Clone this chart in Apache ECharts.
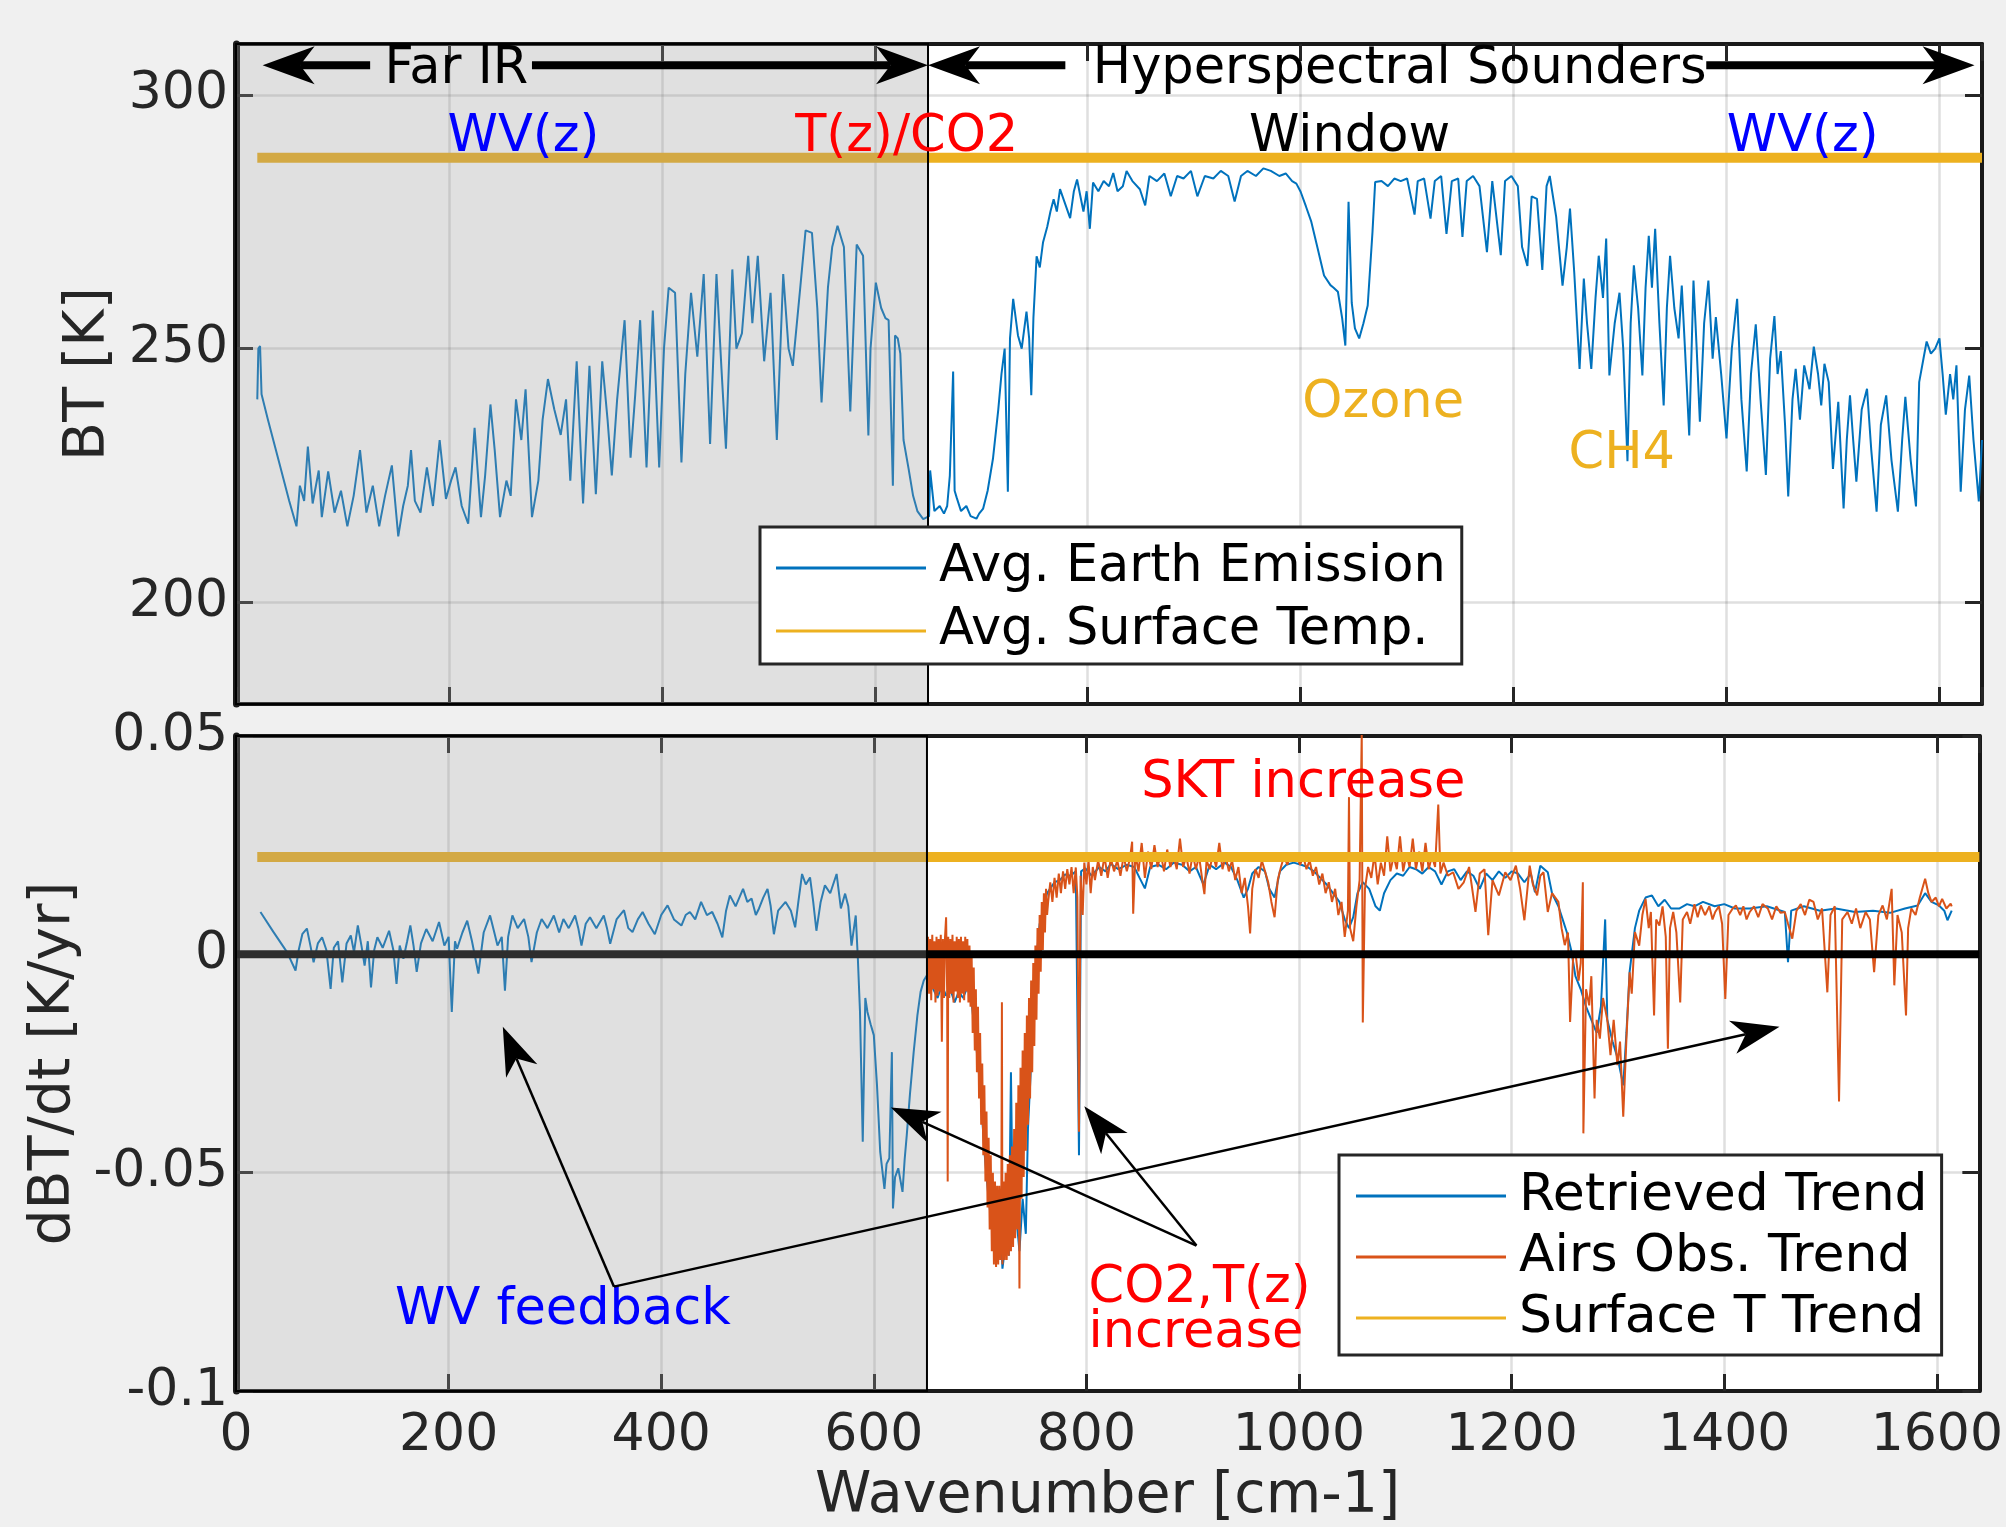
<!DOCTYPE html>
<html>
<head>
<meta charset="utf-8">
<script src="https://cdn.jsdelivr.net/npm/echarts@6/dist/echarts.min.js"></script>
<style>
  html, body { margin: 0; padding: 0; background: #f0f0f0; }
  #chart { width: 2006px; height: 1527px; }
</style>
</head>
<body>
<div id="chart"></div>
<script>
// values: [wavenumber cm-1, value]
const emissionBT = [
  [20,240],[21,250],[22.6,250.5],[24,241],[30,236],[40,228],[50,220],[56.8,215],
  [60,223],[64,220],[67.5,230.7],[72,219.5],[77.7,226],[80.6,216.8],[86.6,225.8],[92.6,217.7],[98.6,222],[104.6,215],
  [110.5,221],[116.5,230],[122.5,217.7],[128.5,223],[134.5,215],[140,221],[146.4,227],[152.4,213],[157,219],[161.4,223],
  [164.4,230],[168,220],[173.3,217.7],[179.3,226.6],[185,219],[191.3,232],[197.2,220.4],[202,224],[206.2,226.6],[212,219],
  [218.1,215.5],[224.1,234.4],[230.1,216.8],[234,225],[239,239],[243,230],[248,216.8],[254,224],[258,221],[263,240],
  [268,232],[272,242],[278,216.8],[284,224],[288,236],[293,244],[299,238],[305,233],[310,240],[314,224],[320,247.5],
  [326,219.5],[332,246.6],[338,221.3],[344,247.5],[349,236],[353,225],[358,240],[365,255.6],[370.6,228.5],[375,241],
  [379.6,255.6],[385.6,226.6],[391.5,257.5],[397.5,226.6],[402,250],[406.4,262],[412.4,261],[418.4,227.6],[422,245],
  [427.4,261],[433.3,248.4],[439.3,264.7],[445.3,231.2],[451.3,264.7],[456,246],[460.2,230.3],[466.2,265.6],[470,250],
  [475.2,253],[481.1,268.3],[485,255],[490.1,268.3],[496.1,247.5],[502.1,261],[508,232],[514,264.7],[519,250],[523,246.6],
  [530,262],[535,273.3],[541,272.8],[546,258],[550,239.4],[556,262],[560,270],[565,274.2],[571,270],[577,237.6],[583,270.5],
  [589,268.3],[594,232.9],[596,250],[601,263],[606,258],[610,256],[613,255.6],[617,223],[619,252.6],[621.6,252],[624,249],
  [627,232],[631.7,226.4],[636,221],[640,218],[645.5,216.4],[651,217],[652,226],
  [656,218],[661,219],[665,217.5],[668,219],[670.5,225],[673.6,245.5],[675,222],[677,220.6],[681,218],[686,219],[690,217],
  [695.5,216.5],[698,217.5],[701.8,218.5],[706,222],[711,228.3],[716,238],[719,245],[722,250],[725,221.8],[727,252],
  [730,259.8],[734.5,252.6],[738,250],[742.5,257.3],[745,252],[747,240.8],[749,256],[752,268.2],[755,266],[758,270.9],
  [762,274],[765,277],[768,279.4],[771,277],[774,281.4],[778,279],[783.5,275.7],[787,281],[790,283.3],[796,277],[799,281],
  [802,273.6],[805,282.7],[810,281],[815,283],[820,282],[824,284.6],[828,281],[833,282],[836.5,285],[842,283],[849,281.4],
  [854,278.2],[858,284],[865,283],[872,284.5],[878,280],[884,284],[890,283.5],[897,285],[903,280],[910,284],[918,283.5],
  [925,285],[932,284],[938,279],[944,284],[950,285],[958,284],[965,285.5],[972,285],[980,284],[986,284.5],[992,283],
  [996,282.5],[1000,280.9],[1005,278],[1010,275],[1016,269.7],[1022,264.4],[1028,262.5],[1031,262],[1035,261.2],[1039,256],
  [1042,250.6],[1045,278.9],[1048,259],[1051,254],[1055,252],[1059,255],[1063,258.5],[1067.5,273],[1070,282.8],[1076,283],
  [1082,282],[1088,283.5],[1094,283],[1100,283.5],[1107,276.4],[1110,283],[1116,283.5],[1122,275.6],[1126,283],[1132,284],
  [1137,272.6],[1142,283],[1148,283.5],[1152,272],[1156,283],[1162,284],[1168,282],[1175,269],[1180,283],[1188,268.4],
  [1192,283],[1198,284],[1204,282],[1208,270],[1213,266.3],[1217,280],[1222,279.5],[1227,265.5],[1231,282],[1234,284],
  [1240,276],[1246,262.4],[1250,270],[1253,277.6],[1257,265],[1262,246],[1266,263.8],[1269,255],[1273,246],[1277,260],
  [1280,268.3],[1284,260],[1287,271.7],[1290,244.7],[1295,255],[1299.5,261],[1303,250],[1307,227.8],[1310,255],[1313,266.4],
  [1317,258],[1321,244.7],[1324,262],[1327,272.2],[1330,262],[1333,273.6],[1337,255],[1341,238.8],[1344,258],[1347,268.3],
  [1351,258],[1355,252],[1358,262.4],[1361,250],[1365,232.9],[1369,263.4],[1372,250],[1375,235.6],[1379,255],[1383,263.4],
  [1387,248],[1390,256.2],[1395,245],[1400,232.3],[1405,250],[1410,259.8],[1414,240],[1419,225.8],[1423,245],[1427.5,254.8],
  [1432,240],[1437,225.1],[1441,248],[1445,256.4],[1448,245],[1451,249.5],[1455,235],[1458,220.9],[1462,240],[1465,246],
  [1469,236],[1473,246.7],[1478,242],[1482,250.4],[1486,245],[1489,238.8],[1492,247],[1496,243.4],[1500,226.3],[1505,239.5],
  [1510,218.5],[1513,232],[1516,240.8],[1519,232],[1522,223.8],[1527,238],[1532,242.1],[1536,230],[1541,217.9],[1545,235],
  [1550,240.8],[1555,228],[1561,217.9],[1565,232],[1568,240.5],[1573,228],[1578,218.9],[1581,243.4],[1585,248],[1588,251.4],
  [1592,249],[1596,250],[1600,252],[1603,245],[1606,237],[1610,245],[1613,240],[1616,246.7],[1620,221.8],[1624,238],
  [1628,244.7],[1632,232],[1637,219.9],[1640,232]
];
const surfaceBT = [[20, 287.6], [1640, 287.6]];

const retrievedTrend = [
  [23,0.0097],[35,0.0052],[48,0.0005],[56,-0.0037],[59,0.0010],[62.5,0.0047],[66.7,0.0059],[70,0.0020],[73,-0.0018],
  [77,0.0025],[81,0.0039],[85,0.0010],[89,-0.0079],[92,0.0015],[96,0.0030],[100,-0.0064],[104,0.0025],[108,0.0043],
  [111,0.0005],[114.6,0.0066],[118,0.0020],[121,-0.0026],[124,0.0030],[127,-0.0076],[130,0.0010],[133,0.0039],[138,0.0015],
  [144,0.0054],[148,0.0010],[151,-0.0068],[154,0.0020],[157.5,-0.0010],[161,0.0030],[164,0.0066],[167,0.0020],[170,-0.0040],
  [174,0.0025],[179,0.0058],[185,0.0030],[191,0.0074],[196,0.0020],[200,0.0040],[203,-0.0132],[206,0.0030],[208,0.0013],
  [213,0.0050],[217.5,0.0077],[222,0.0030],[228,-0.0044],[233,0.0050],[239,0.0089],[243,0.0050],[246,0.0020],[250,0.0040],
  [253,-0.0083],[256,0.0040],[260,0.0089],[265,0.0060],[271,0.0081],[275,0.0040],[278,-0.0018],[283,0.0050],[287.5,0.0081],
  [293,0.0060],[299,0.0089],[304,0.0050],[308,0.0081],[313,0.0060],[319,0.0089],[322,0.0060],[325,0.0020],[329,0.0070],
  [333,0.0085],[339,0.0060],[346,0.0089],[349,0.0060],[352,0.0024],[358,0.0080],[365,0.0101],[369,0.0060],[373,0.0051],
  [378,0.0080],[382.5,0.0097],[388,0.0070],[394,0.0046],[400,0.0090],[406,0.0112],[412,0.0080],[419,0.0066],[423,0.0090],
  [427,0.0097],[432,0.0080],[437.5,0.0120],[443,0.0090],[448,0.0097],[453,0.0070],[457.5,0.0039],[461,0.0100],[464.6,0.0135],
  [470,0.0110],[477,0.0150],[481,0.0120],[485,0.0128],[489,0.0090],[492,0.0105],[496,0.0130],[500,0.0150],[503,0.0110],
  [506,0.0046],[510,0.0100],[517,0.0120],[522,0.0100],[526,0.0062],[529,0.0120],[532.5,0.0184],[536,0.0160],[540,0.0176],
  [543,0.0120],[546,0.0054],[550,0.0120],[554,0.0158],[559,0.0140],[565,0.0184],[569,0.0105],[573,0.0139],[576,0.0110],
  [579,0.0020],[583,0.0089],[585,-0.0010],[587,-0.0132],[589.6,-0.0429],[592,-0.0100],[594,-0.0132],[597,-0.0160],
  [600,-0.0185],[603,-0.0300],[606,-0.0452],[610,-0.0537],[612,-0.0480],[614.6,-0.0467],[617,-0.0224],[618,-0.0582],
  [620,-0.0510],[623,-0.0490],[627,-0.0544],[629,-0.0470],[631,-0.0414],[634,-0.0320],[637.5,-0.0224],[641,-0.0140],
  [644,-0.0086],[647,-0.0060],[650,-0.0048],
  [652,-0.0020],[656,-0.0080],[660,-0.0100],[664,-0.0070],[668,-0.0095],[672,-0.0080],[676,-0.0110],[680,-0.0085],
  [684,-0.0100],[688,-0.0075],[692,-0.0110],[696,-0.0200],[700,-0.0300],[704,-0.0450],[708,-0.0560],[712,-0.0640],
  [716,-0.0700],[719,-0.0610],[721,-0.0720],[724,-0.0660],[727,-0.0690],[729,-0.0270],[731,-0.0650],[734,-0.0600],
  [737,-0.0680],[740,-0.0560],[743,-0.0640],[745,-0.0400],[748,-0.0250],[750,-0.0079],[753,-0.0010],[756,0.0069],
  [760,0.0110],[763,0.0140],[766,0.0151],[770,0.0165],[775,0.0170],[780,0.0183],[785,0.0180],[790,0.0190],[793,-0.0460],
  [795,0.0190],[799,0.0197],
  [805,0.0180],[812,0.0200],[818,0.0190],[823,0.0207],[830,0.0195],[838,0.0205],[845,0.0200],[850,0.0175],[855,0.0151],
  [860,0.0200],[868,0.0205],[875,0.0195],[882,0.0210],[890,0.0205],[897,0.0190],[903,0.0200],[910,0.0160],[916,0.0205],
  [922,0.0195],[930,0.0210],[936,0.0200],[942,0.0170],[948,0.0130],[952,0.0150],[956,0.0185],[962,0.0200],[968,0.0190],
  [972,0.0150],[977,0.0130],[982,0.0190],[988,0.0205],[995,0.0210],[1002,0.0205],[1008,0.0200],[1014,0.0190],[1020,0.0175],
  [1026,0.0160],[1032,0.0140],[1038,0.0120],[1043,0.0080],[1047,0.0060],[1051,0.0085],[1055,0.0140],[1060,0.0165],
  [1066,0.0150],[1072,0.0110],[1076,0.0100],[1080,0.0140],[1086,0.0170],[1092,0.0185],[1098,0.0180],[1104,0.0200],
  [1110,0.0195],[1116,0.0185],[1122,0.0200],[1128,0.0190],[1134,0.0160],[1140,0.0190],[1146,0.0195],[1152,0.0170],
  [1158,0.0190],[1164,0.0180],[1170,0.0150],[1176,0.0185],[1182,0.0170],[1188,0.0190],[1194,0.0175],[1200,0.0190],
  [1206,0.0185],[1212,0.0165],[1218,0.0185],[1222,0.0142],[1227,0.0203],[1234,0.0188],[1238,0.0140],[1244,0.0110],
  [1248,0.0080],[1252,0.0050],[1256,0.0010],[1260,-0.0050],[1265,-0.0080],[1270,-0.0120],[1275,-0.0150],[1280,-0.0180],
  [1284,-0.0120],[1288,0.0080],[1290,-0.0150],[1295,-0.0200],[1300,-0.0240],[1305,-0.0300],[1308,-0.0180],[1311,-0.0040],
  [1316,0.0060],[1320,0.0100],[1326,0.0130],[1332,0.0135],[1338,0.0110],[1344,0.0125],[1350,0.0105],[1358,0.0105],
  [1365,0.0115],[1372,0.0110],[1380,0.0120],[1391,0.0110],[1400,0.0115],[1410,0.0105],[1424,0.0105],[1440,0.0110],
  [1457,0.0097],[1460,-0.0018],[1463,0.0100],[1475,0.0110],[1490,0.0100],[1505,0.0105],[1523,0.0097],[1540,0.0100],
  [1556,0.0095],[1570,0.0105],[1582,0.0112],[1589,0.0140],[1595,0.0120],[1602,0.0112],[1607,0.0100],[1610,0.0078],[1614,0.0100]
];

const airsObsTrend = [
  [650,0.0000],[651,0.0040],[652,-0.0090],[653,0.0035],[654,-0.0105],[655,0.0045],[656,-0.0080],[657,0.0030],
  [658,-0.0110],[659,0.0040],[660,-0.0095],[661,0.0035],[662,-0.0085],[663,0.0045],[664,-0.0200],[665,0.0035],
  [666,-0.0100],[667,0.0040],[668,0.0085],[669,-0.0090],[669.5,-0.0520],[670,0.0040],[671,-0.0100],[672,0.0035],
  [673,-0.0090],[674,0.0045],[675,-0.0110],[676,0.0030],[677,-0.0085],[678,0.0040],[679,-0.0100],[680,0.0035],
  [681,-0.0110],[682,0.0040],[683,-0.0090],[684,0.0030],[685,-0.0105],[686,0.0040],[687,-0.0085],[688,0.0035],
  [689,-0.0110],[690,0.0020],[691,-0.0120],[692,0.0000],[693,-0.0180],[694,-0.0030],[695,-0.0220],[696,-0.0080],
  [697,-0.0270],[698,-0.0120],[699,-0.0330],[700,-0.0180],[701,-0.0390],[702,-0.0250],[703,-0.0460],[704,-0.0300],
  [705,-0.0520],[706,-0.0360],[707,-0.0580],[708,-0.0420],[709,-0.0630],[710,-0.0460],[711,-0.0680],[712,-0.0500],
  [713,-0.0710],[714,-0.0520],[715,-0.0716],[716,-0.0530],[717,-0.0710],[718,-0.0530],[719,-0.0700],[720,-0.0530],
  [720.5,-0.0110],[721,-0.0710],[722,-0.0520],[723,-0.0700],[724,-0.0500],[725,-0.0700],[726,-0.0480],[727,-0.0690],
  [728,-0.0460],[729,-0.0680],[730,-0.0440],[731,-0.0670],[732,-0.0400],[733,-0.0650],[734,-0.0340],[735,-0.0630],
  [736,-0.0300],[737,-0.0765],[738,-0.0260],[739,-0.0560],[740,-0.0220],[741,-0.0510],[742,-0.0180],[743,-0.0450],
  [744,-0.0140],[745,-0.0390],[746,-0.0100],[747,-0.0330],[748,-0.0060],[749,-0.0270],[750,-0.0020],[751,-0.0210],
  [752,0.0020],[753,-0.0150],[754,0.0060],[755,-0.0090],[756,0.0090],[757,-0.0040],[758,0.0120],[759,0.0010],
  [760,0.0140],[761,0.0050],[762,0.0150],[763,0.0090],[764,0.0120],[766,0.0165],[768,0.0120],
  [770,0.0175],[772,0.0130],[774,0.0185],[776,0.0140],[778,0.0190],[780,0.0150],[782,0.0195],[784,0.0160],[786,0.0200],
  [788,0.0140],[790,0.0199],[791.5,0.0130],[793,-0.0406],[794.5,0.0180],[796.5,0.0090],[798,0.0210],[800,0.0160],
  [802,0.0215],[804,0.0140],[806,0.0200],[808,0.0170],[811,0.0215],[814,0.0180],[817,0.0225],[820,0.0175],[823,0.0220],
  [826,0.0190],[829,0.0215],[832,0.0180],[835,0.0225],[838,0.0190],[841,0.0220],[843,0.0258],[844,0.0093],[846,0.0230],
  [849,0.0190],[852,0.0255],[855,0.0175],[858,0.0235],[861,0.0195],[864,0.0250],[867,0.0200],[870,0.0230],[873,0.0190],
  [876,0.0240],[879,0.0200],[882,0.0225],[885,0.0195],[888,0.0265],[891,0.0200],[894,0.0225],[897,0.0185],[900,0.0230],
  [903,0.0195],[906,0.0225],[909,0.0170],[911,0.0138],[913,0.0215],[916,0.0195],[919,0.0230],[922,0.0200],[925,0.0255],
  [928,0.0195],[931,0.0225],[934,0.0190],[937,0.0215],[940,0.0170],[943,0.0200],[946,0.0140],[949,0.0175],[952,0.0110],
  [954,0.0048],[956,0.0150],[959,0.0195],[962,0.0175],[965,0.0215],[968,0.0190],[971,0.0165],[974,0.0120],[977,0.0085],
  [980,0.0170],[983,0.0200],[986,0.0225],[989,0.0205],[992,0.0230],[995,0.0215],[998,0.0225],[1001,0.0205],[1004,0.0225],
  [1007,0.0195],[1010,0.0215],[1013,0.0180],[1016,0.0200],[1019,0.0160],[1022,0.0185],[1025,0.0140],[1028,0.0165],
  [1031,0.0120],[1034,0.0150],[1037,0.0090],[1040,0.0120],[1043,0.0040],[1046,0.0100],[1047,0.0360],[1048,0.0060],
  [1051,0.0030],[1054,0.0110],[1057,0.0170],[1059,0.0507],[1060,-0.0156],[1062,0.0150],[1065,0.0200],[1068,0.0175],
  [1071,0.0230],[1074,0.0160],[1077,0.0210],[1080,0.0180],[1083,0.0270],[1086,0.0190],[1089,0.0225],[1092,0.0195],
  [1095,0.0270],[1098,0.0190],[1101,0.0230],[1104,0.0200],[1107,0.0265],[1110,0.0195],[1113,0.0235],[1116,0.0190],
  [1119,0.0255],[1122,0.0195],[1125,0.0225],[1128,0.0200],[1131,0.0343],[1133,0.0185],[1136,0.0210],[1140,0.0180],
  [1145,0.0188],[1150,0.0150],[1155,0.0165],[1160,0.0200],[1166,0.0097],[1170,0.0185],[1174.5,0.0195],[1178,0.0044],
  [1182,0.0170],[1188,0.0135],[1194,0.0188],[1199,0.0170],[1204,0.0203],[1208,0.0150],[1212,0.0078],[1217,0.0203],
  [1220,0.0160],[1224,0.0135],[1227,0.0180],[1230,0.0188],[1234,0.0097],[1238,0.0140],[1244,0.0120],[1247,0.0060],
  [1250,0.0021],[1253,0.0050],[1255,-0.0155],[1258,0.0000],[1260,0.0006],[1263,-0.0060],[1265,-0.0020],[1267,0.0165],
  [1267.5,-0.0410],[1270,-0.0080],[1273,-0.0117],[1275,-0.0050],[1278,-0.0330],[1280,-0.0150],[1283,-0.0193],[1286,-0.0100],
  [1290,-0.0150],[1293,-0.0231],[1296,-0.0150],[1299.5,-0.0254],[1302,-0.0200],[1305,-0.0372],[1308,-0.0193],[1311,-0.0041],
  [1313,-0.0090],[1316,0.0051],[1320,0.0020],[1323,0.0090],[1326,0.0127],[1329,0.0060],[1331,0.0097],[1334,-0.0140],
  [1336,0.0080],[1339,0.0066],[1342,0.0110],[1345,0.0040],[1347,-0.0216],[1349,0.0060],[1352,0.0097],[1355,0.0050],
  [1358.6,-0.0110],[1361,0.0080],[1365,0.0097],[1368,0.0070],[1372,0.0115],[1375,0.0085],[1378,0.0112],[1382,0.0090],
  [1386,0.0110],[1389,0.0080],[1391.5,0.0097],[1395,0.0110],[1398,0.0070],[1401,-0.0102],[1404,0.0090],[1408,0.0105],
  [1411,0.0112],[1415,0.0090],[1418,0.0110],[1421,0.0080],[1424,0.0097],[1428,0.0110],[1432,0.0085],[1436,0.0115],
  [1441,0.0105],[1445,0.0080],[1449,0.0110],[1453,0.0095],[1457,0.0097],[1460,0.0070],[1464,0.0036],[1468,0.0100],
  [1472,0.0115],[1476,0.0090],[1480,0.0125],[1484,0.0120],[1488,0.0080],[1492,0.0105],[1497,-0.0087],[1500,0.0090],
  [1504,0.0110],[1508,-0.0337],[1511,0.0080],[1516,0.0097],[1520,0.0070],[1524,0.0105],[1528,0.0060],[1533,0.0097],
  [1537,0.0080],[1541,-0.0041],[1545,0.0090],[1549,0.0112],[1553,0.0080],[1557.5,0.0150],[1560,-0.0071],[1563,0.0090],
  [1567,0.0050],[1571,-0.0140],[1573,0.0060],[1576,0.0105],[1580,0.0090],[1584,0.0130],[1589,0.0173],[1592,0.0140],
  [1595,0.0120],[1599,0.0130],[1602,0.0110],[1605,0.0127],[1609,0.0105],[1613,0.0116],[1614,0.0110]
];
const surfaceTrend = [[20, 0.0223], [1640, 0.0223]];
const zeroLine = [[0, 0], [1640, 0]];

const farIRBand = [0, 650];
const btTicks = [200, 250, 300];
const wnRange = [0, 1640];

// annotation texts and arrows, in data coordinates
const topNotes = [
  { text: 'WV(z)', at: [270, 292.5], color: '#0000ff' },
  { text: 'T(z)/CO2', at: [630, 292.5], color: '#ff0000' },
  { text: 'Window', at: [1046, 292.5], color: '#000000' },
  { text: 'WV(z)', at: [1471.6, 292.5], color: '#0000ff' },
  { text: 'Ozone', at: [1077.5, 240.1], color: '#edb120' },
  { text: 'CH4', at: [1301.6, 230], color: '#edb120' },
  { text: 'Far IR', at: [207, 306], color: '#000000' },
  { text: 'Hyperspectral Sounders', at: [1093, 306], color: '#000000' }
];
const bottomNotes = [
  { text: 'SKT increase', at: [1004, 0.0401], color: '#ff0000' },
  { text: 'WV feedback', at: [307.5, -0.0804], color: '#0000ff' },
  { text: 'CO2,T(z)', at: [802, -0.0755], color: '#ff0000', align: 'left' },
  { text: 'increase', at: [802, -0.0857], color: '#ff0000', align: 'left' }
];
const topArrows = [
  [[126, 305.8], [25, 305.8]],
  [[278, 305.8], [650, 305.8]],
  [[779, 305.8], [650, 305.8]],
  [[1381, 305.8], [1633, 305.8]]
];
const bottomArrows = [
  [[355.6, -0.0761], [251, -0.0166]],
  [[355.6, -0.0761], [1452, -0.0166]],
  [[903.5, -0.0667], [798, -0.0348]],
  [[903.5, -0.0667], [616, -0.0351]]
];

const FONT = 'DejaVu Sans';
const INK = '#262626';
const FRAME = '#1a1a1a';
const TICK_FS = 52;
const TITLE_FS = 57;

function xAx(grid, pos, labels, name) {
  return {
    type: 'value', gridIndex: grid, position: pos, min: wnRange[0], max: wnRange[1], interval: 200,
    axisLine: { show: true, onZero: false, lineStyle: { color: FRAME, width: 4 } },
    axisTick: { show: true, inside: true, length: 17, lineStyle: { color: INK, width: 3 } },
    axisLabel: { show: labels, color: INK, fontFamily: FONT, fontSize: TICK_FS, margin: 19, formatter: v => String(v) },
    splitLine: { show: pos === 'bottom', lineStyle: { color: 'rgba(38,38,38,0.15)', width: 2.5 } },
    name: name || '', nameLocation: 'middle', nameGap: 78,
    nameTextStyle: { color: INK, fontFamily: FONT, fontSize: TITLE_FS }
  };
}

function yAx(grid, pos, range, extra, name, gap) {
  const ax = {
    type: 'value', gridIndex: grid, position: pos, min: range[0], max: range[1],
    axisLine: { show: true, onZero: false, lineStyle: { color: FRAME, width: pos === 'left' ? 7 : 4 } },
    axisTick: { show: true, inside: true, length: 17, lineStyle: { color: INK, width: 3 } },
    axisLabel: { show: pos === 'left', color: INK, fontFamily: FONT, fontSize: TICK_FS, margin: 8, formatter: v => String(v) },
    splitLine: { show: pos === 'left', lineStyle: { color: 'rgba(38,38,38,0.15)', width: 2.5 } },
    name: name || '', nameLocation: 'middle', nameGap: gap || 0, nameRotate: 90,
    nameTextStyle: { color: INK, fontFamily: FONT, fontSize: TITLE_FS }
  };
  return Object.assign(ax, extra || {});
}

function line(name, xi, yi, data, color, width, z) {
  return {
    name: name, type: 'line', xAxisIndex: xi, yAxisIndex: yi, data: data,
    symbol: 'none', showSymbol: false, silent: true, z: z,
    lineStyle: { color: color, width: width }, itemStyle: { color: color },
    emphasis: { disabled: true }
  };
}

function shade(xi, yi) {
  return {
    type: 'line', xAxisIndex: xi, yAxisIndex: yi, data: [], silent: true, z: 10,
    markArea: {
      silent: true, z: 10,
      itemStyle: { color: 'rgba(153,153,153,0.3)', borderColor: '#000', borderWidth: 2 },
      data: [[{ xAxis: farIRBand[0] }, { xAxis: farIRBand[1] }]]
    }
  };
}

function legendBox(names, left, top, fontSize, lineHeight, pad) {
  return {
    data: names, orient: 'vertical', left: left, top: top, z: 20,
    backgroundColor: '#ffffff', borderColor: INK, borderWidth: 3, borderRadius: 0,
    padding: pad, itemWidth: 150, itemHeight: 3, icon: 'rect', itemGap: 7,
    itemStyle: { borderWidth: 0 },
    selectedMode: false,
    textStyle: { color: '#000', fontFamily: FONT, fontSize: fontSize, lineHeight: lineHeight, padding: [0, 0, 0, 8] }
  };
}

const chart = echarts.init(document.getElementById('chart'), null, { renderer: 'canvas' });

const option = {
  animation: false,
  backgroundColor: '#f0f0f0',
  grid: [
    { left: 236, top: 44, width: 1746, height: 660, show: true, backgroundColor: '#ffffff', borderWidth: 0 },
    { left: 236, top: 736, width: 1746, height: 659, show: true, backgroundColor: '#ffffff', borderWidth: 0 }
  ],
  xAxis: [
    xAx(0, 'bottom', false),
    xAx(0, 'top', false),
    xAx(1, 'bottom', true, 'Wavenumber [cm-1]'),
    xAx(1, 'top', false)
  ],
  yAxis: [
    yAx(0, 'left', [180, 310], {
      axisTick: { show: true, inside: true, length: 17, lineStyle: { color: INK, width: 3 }, customValues: btTicks },
      axisLabel: { show: true, color: INK, fontFamily: FONT, fontSize: TICK_FS, margin: 8, customValues: btTicks, formatter: v => String(v) }
    }, 'BT [K]', 111),
    yAx(0, 'right', [180, 310], {
      axisTick: { show: true, inside: true, length: 17, lineStyle: { color: INK, width: 3 }, customValues: btTicks }
    }),
    yAx(1, 'left', [-0.1, 0.05], { interval: 0.05 }, 'dBT/dt [K/yr]', 147),
    yAx(1, 'right', [-0.1, 0.05], { interval: 0.05 })
  ],
  legend: [
    legendBox(['Avg. Earth Emission', 'Avg. Surface Temp.'], 760, 527, 51, 56, [13, 16, 5, 16]),
    legendBox(['Retrieved Trend', 'Airs Obs. Trend', 'Surface T Trend'], 1339, 1155, 52, 54, [14, 14, 10, 17])
  ],
  series: [
    line('Avg. Earth Emission', 0, 0, emissionBT, '#0072bd', 2, 3),
    line('Avg. Surface Temp.', 0, 0, surfaceBT, '#edb120', 10, 4),
    shade(0, 0),
    line('Retrieved Trend', 2, 2, retrievedTrend, '#0072bd', 2, 3),
    line('Airs Obs. Trend', 2, 2, airsObsTrend, '#d95319', 2, 4),
    line('Surface T Trend', 2, 2, surfaceTrend, '#edb120', 10, 5),
    line('zero', 2, 2, zeroLine, '#000000', 8, 6),
    shade(2, 2)
  ]
};
chart.setOption(option);

function arrowEls(p0, p1, lw, headLen, headWid) {
  const dx = p1[0] - p0[0], dy = p1[1] - p0[1];
  const L = Math.hypot(dx, dy);
  const ux = dx / L, uy = dy / L, nx = -uy, ny = ux;
  const bx = p1[0] - ux * headLen, by = p1[1] - uy * headLen;
  const notch = [p1[0] - ux * headLen * 0.72, p1[1] - uy * headLen * 0.72];
  return [
    { type: 'polyline', z: 100, silent: true, shape: { points: [p0, notch] },
      style: { stroke: '#000', lineWidth: lw, fill: null } },
    { type: 'polygon', z: 100, silent: true,
      shape: { points: [p1, [bx + nx * headWid / 2, by + ny * headWid / 2], notch, [bx - nx * headWid / 2, by - ny * headWid / 2]] },
      style: { fill: '#000' } }
  ];
}

// text boxes sit a few pixels high with middle alignment, so nudge down
function textEl(note, gridIdx) {
  const p = chart.convertToPixel({ gridIndex: gridIdx }, note.at);
  return {
    type: 'text', z: 100, silent: true, x: p[0], y: p[1] + 5,
    style: { text: note.text, fill: note.color, fontFamily: FONT, fontSize: 51,
      align: note.align || 'center', verticalAlign: 'middle' }
  };
}

const els = [];
topNotes.forEach(n => els.push(textEl(n, 0)));
bottomNotes.forEach(n => els.push(textEl(n, 1)));
topArrows.forEach(a => {
  const p0 = chart.convertToPixel({ gridIndex: 0 }, a[0]);
  const p1 = chart.convertToPixel({ gridIndex: 0 }, a[1]);
  arrowEls(p0, p1, 8, 52, 38).forEach(e => els.push(e));
});
bottomArrows.forEach(a => {
  const p0 = chart.convertToPixel({ gridIndex: 1 }, a[0]);
  const p1 = chart.convertToPixel({ gridIndex: 1 }, a[1]);
  arrowEls(p0, p1, 2.5, 48, 34).forEach(e => els.push(e));
});
chart.setOption({ graphic: els });
</script>
</body>
</html>
